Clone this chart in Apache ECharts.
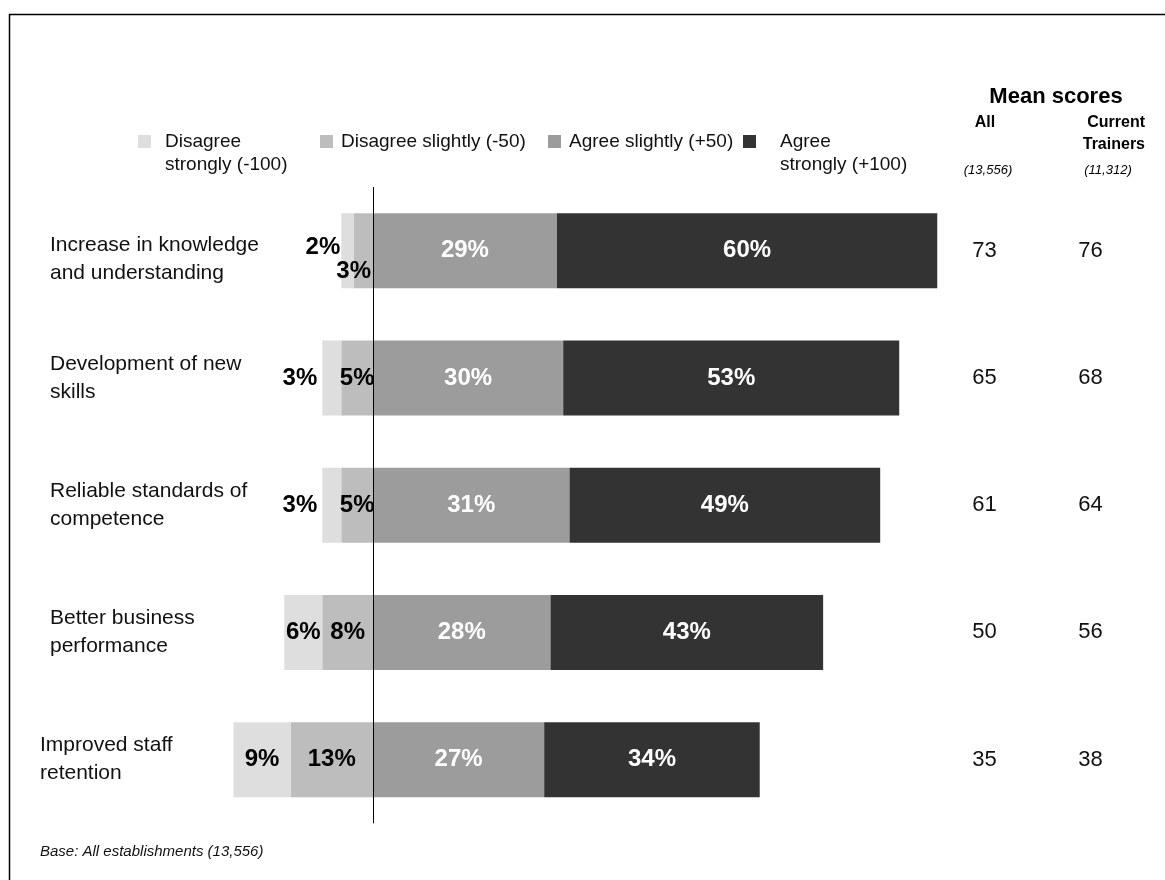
<!DOCTYPE html>
<html>
<head>
<meta charset="utf-8">
<script src="https://cdn.jsdelivr.net/npm/echarts@6/dist/echarts.min.js"></script>
<style>
  html, body { margin: 0; padding: 0; background: #fff; }
  #chart { width: 1165px; height: 880px; }
</style>
</head>
<body>
<div id="chart"></div>
<script>
// Survey statements (top to bottom)
const categories = [
  'Increase in knowledge\nand understanding',
  'Development of new\nskills',
  'Reliable standards of\ncompetence',
  'Better business\nperformance',
  'Improved staff\nretention'
];
// Share of establishments giving each answer (%)
const disagreeStrongly = [2, 3, 3, 6, 9];
const disagreeSlightly = [3, 5, 5, 8, 13];
const agreeSlightly = [29, 30, 31, 28, 27];
const agreeStrongly = [60, 53, 49, 43, 34];
// Mean scores per statement
const meanAll = [73, 65, 61, 50, 35];
const meanTrainers = [76, 68, 64, 56, 38];

const seriesNames = ['Disagree strongly (-100)', 'Disagree slightly (-50)', 'Agree slightly (+50)', 'Agree strongly (+100)'];
const colors = ['#dedede', '#bdbdbd', '#9c9c9c', '#333333'];

const FONT = '"Liberation Sans", Arial, Helvetica, sans-serif';
const labelFont = { fontFamily: FONT, fontSize: 24, fontWeight: 'bold' };
const fmtPct = p => Math.abs(p.value) + '%';

// Label placement for the small disagree segments
const strongLabels = [
  { position: 'left', distance: 1, offset: [0, -3] },
  { position: 'left', distance: 5 },
  { position: 'left', distance: 5 },
  { position: 'inside' },
  { position: 'inside' }
];
const slightLabels = [
  { position: 'insideRight', distance: 2, offset: [0, 21] },
  { position: 'inside' },
  { position: 'inside' },
  { position: 'inside' },
  { position: 'inside' }
];

// Statement label style; the last row sits a little further left
const catLabelBase = { align: 'left', fontFamily: FONT, fontSize: 21, lineHeight: 28, color: '#111' };
const categoryStyles = [
  catLabelBase,
  catLabelBase,
  catLabelBase,
  catLabelBase,
  Object.assign({}, catLabelBase, { padding: [0, 0, 0, -10] })
];

const chart = echarts.init(document.getElementById('chart'), null, { renderer: 'canvas' });

function legendFor(i, left, top, twoLine, padLeft) {
  return {
    data: [seriesNames[i]],
    left: left,
    top: top,
    padding: 0,
    icon: 'rect',
    itemWidth: 13,
    itemHeight: 13,
    selectedMode: false,
    formatter: function (name) {
      if (!twoLine) return name;
      const k = name.indexOf(' (');
      const parts = name.slice(0, k).split(' ');
      // leading empty line keeps the first line level with the swatch
      return '\n' + parts[0] + '\n' + parts[1] + name.slice(k);
    },
    textStyle: {
      fontFamily: FONT,
      fontSize: 19,
      color: '#111',
      lineHeight: 23,
      padding: [0, 0, 0, padLeft]
    }
  };
}

const option = {
  backgroundColor: '#ffffff',
  animation: false,
  textStyle: { fontFamily: FONT },
  color: colors,
  legend: [
    legendFor(0, 138, 107, true, 9),
    legendFor(1, 320, 130, false, 3),
    legendFor(2, 548, 130, false, 3),
    legendFor(3, 743, 107, true, 19)
  ],
  grid: { left: 214.5, right: 221.4, top: 187, bottom: 56.75, outerBoundsMode: 'none' },
  xAxis: {
    type: 'value',
    min: -25,
    max: 90,
    show: false
  },
  yAxis: [
    {
      type: 'category',
      data: categories.map((c, i) => ({ value: c, textStyle: categoryStyles[i] })),
      inverse: true,
      axisLine: { show: false },
      axisTick: { show: false },
      splitLine: { show: false },
      axisLabel: Object.assign({
        margin: 164.5,
        // the first statement is nudged down by a short spacer line
        formatter: (value, index) => index === 0
          ? '{s| }\n' + value.split('\n').map(t => '{t|' + t + '}').join('\n')
          : value,
        rich: {
          s: { fontSize: 10, lineHeight: 18 },
          t: { fontFamily: FONT, fontSize: 21, lineHeight: 28, color: '#111' }
        }
      }, catLabelBase)
    },
    {
      type: 'category',
      data: meanAll.map(String),
      inverse: true,
      position: 'right',
      axisLine: { show: false },
      axisTick: { show: false },
      axisLabel: { align: 'center', margin: 41, fontFamily: FONT, fontSize: 22, color: '#111' }
    },
    {
      type: 'category',
      data: meanTrainers.map(String),
      inverse: true,
      position: 'right',
      axisLine: { show: false },
      axisTick: { show: false },
      axisLabel: { align: 'center', margin: 147, fontFamily: FONT, fontSize: 22, color: '#111' }
    }
  ],
  series: [
    {
      name: seriesNames[1],
      type: 'bar',
      stack: 'total',
      barWidth: 75,
      itemStyle: { color: colors[1] },
      label: Object.assign({ show: true, color: '#000', formatter: fmtPct }, labelFont),
      data: disagreeSlightly.map((v, i) => ({ value: -v, label: slightLabels[i] }))
    },
    {
      name: seriesNames[0],
      type: 'bar',
      stack: 'total',
      barWidth: 75,
      itemStyle: { color: colors[0] },
      label: Object.assign({ show: true, color: '#000', formatter: fmtPct }, labelFont),
      data: disagreeStrongly.map((v, i) => ({ value: -v, label: strongLabels[i] }))
    },
    {
      name: seriesNames[2],
      type: 'bar',
      stack: 'total',
      barWidth: 75,
      itemStyle: { color: colors[2] },
      label: Object.assign({ show: true, position: 'inside', color: '#fff', formatter: fmtPct }, labelFont),
      data: agreeSlightly
    },
    {
      name: seriesNames[3],
      type: 'bar',
      stack: 'total',
      barWidth: 75,
      itemStyle: { color: colors[3] },
      label: Object.assign({ show: true, position: 'inside', color: '#fff', formatter: fmtPct }, labelFont),
      data: agreeStrongly,
      markLine: {
        silent: true,
        symbol: 'none',
        label: { show: false },
        lineStyle: { color: '#000', width: 1, type: 'solid' },
        data: [{ xAxis: 0 }]
      }
    }
  ],
  graphic: [
    {
      type: 'rect',
      shape: { x: 9.5, y: 14.5, width: 1200, height: 900 },
      style: { fill: 'none', stroke: '#000', lineWidth: 1.5 },
      silent: true
    },
    { type: 'text', x: 1056, y: 97, style: { text: 'Mean scores', font: 'bold 22px ' + FONT, fill: '#000', textAlign: 'center', textVerticalAlign: 'middle' } },
    { type: 'text', x: 985, y: 123, style: { text: 'All', font: 'bold 16px ' + FONT, fill: '#000', textAlign: 'center', textVerticalAlign: 'middle' } },
    { type: 'text', x: 1145, y: 123, style: { text: 'Current', font: 'bold 16px ' + FONT, fill: '#000', textAlign: 'right', textVerticalAlign: 'middle' } },
    { type: 'text', x: 1145, y: 145, style: { text: 'Trainers', font: 'bold 16px ' + FONT, fill: '#000', textAlign: 'right', textVerticalAlign: 'middle' } },
    { type: 'text', x: 988, y: 170, style: { text: '(13,556)', font: 'italic 13px ' + FONT, fill: '#000', textAlign: 'center', textVerticalAlign: 'middle' } },
    { type: 'text', x: 1108, y: 170, style: { text: '(11,312)', font: 'italic 13px ' + FONT, fill: '#000', textAlign: 'center', textVerticalAlign: 'middle' } },
    { type: 'text', x: 40, y: 852, style: { text: 'Base: All establishments (13,556)', font: 'italic 15px ' + FONT, fill: '#111', textAlign: 'left', textVerticalAlign: 'middle' } }
  ]
};

chart.setOption(option);
</script>
</body>
</html>
